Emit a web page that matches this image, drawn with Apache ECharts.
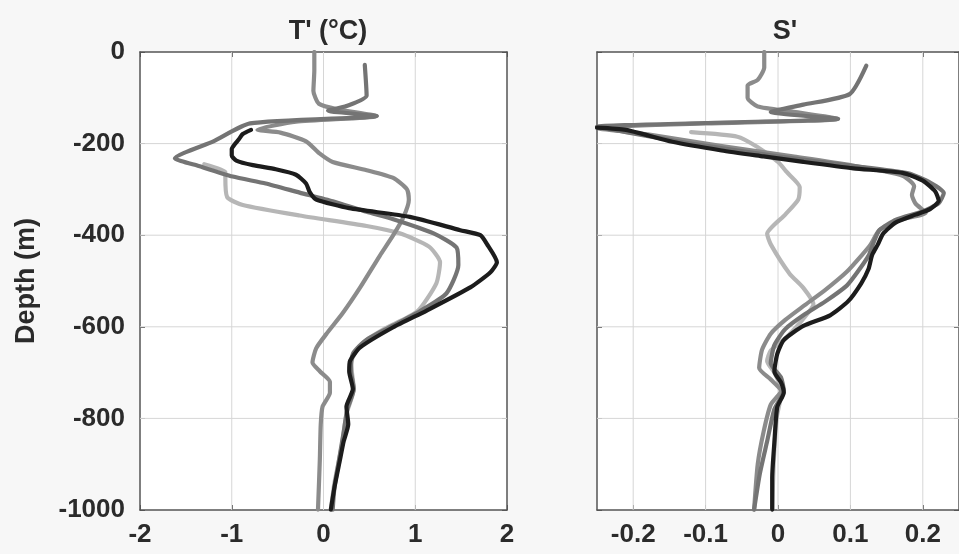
<!DOCTYPE html>
<html>
<head>
<meta charset="utf-8">
<script src="https://cdn.jsdelivr.net/npm/echarts@6/dist/echarts.min.js"></script>
<style>
  html, body { margin: 0; padding: 0; background: #f7f7f7; }
  #chart { width: 959px; height: 554px; }
</style>
</head>
<body>
<div id="chart"></div>
<script>
// depth ticks (m) and x ticks
const depthTicks = [0, -200, -400, -600, -800, -1000]
const tTicks = [-2, -1, 0, 1, 2]
const sTicks = [-0.2, -0.1, 0, 0.1, 0.2]

// T' profiles, [value, depth]
const tBlack = [[-0.79,-170],[-0.88,-179],[-0.92,-190],[-0.97,-202],[-1.0,-212],[-1.0,-226],[-0.95,-237],[-0.77,-247],[-0.52,-256],[-0.3,-268],[-0.19,-287],[-0.15,-306],[-0.08,-322],[0.28,-341],[0.94,-360],[1.49,-389],[1.71,-400],[1.78,-419],[1.89,-459],[1.82,-481],[1.6,-514],[1.12,-565],[0.76,-601],[0.4,-645],[0.29,-674],[0.28,-697],[0.32,-736],[0.25,-774],[0.27,-813],[0.22,-850],[0.18,-890],[0.12,-950],[0.08,-999]]
const tDark = [[0.45,-28],[0.47,-95],[0.25,-118],[0.05,-128],[0.58,-140],[-0.8,-156],[-1.2,-195],[-1.62,-232],[-1.36,-249],[-0.99,-272],[-0.63,-287],[-0.26,-307],[0.1,-326],[0.47,-349],[0.76,-365],[1.2,-396],[1.45,-427],[1.47,-465],[1.34,-527],[1.05,-566],[0.76,-597],[0.47,-628],[0.32,-659],[0.3,-697],[0.33,-736],[0.26,-780],[0.22,-830],[0.17,-890],[0.12,-950],[0.1,-999]]
const tMed = [[-0.1,0],[-0.1,-40],[-0.11,-85],[-0.05,-113],[0.15,-125],[0.58,-140],[-0.3,-152],[-0.72,-170],[-0.47,-176],[-0.19,-195],[-0.04,-222],[0.1,-240],[0.47,-258],[0.76,-275],[0.91,-300],[0.93,-323],[0.87,-361],[0.76,-400],[0.61,-446],[0.4,-514],[0.21,-570],[0.03,-616],[-0.08,-647],[-0.12,-678],[-0.04,-697],[0.07,-720],[0.07,-744],[-0.01,-774],[-0.03,-813],[-0.04,-890],[-0.06,-999]]
const tLight = [[-1.3,-245],[-1.07,-262],[-1.07,-272],[-1.05,-317],[-0.88,-334],[-0.26,-357],[0.47,-380],[0.83,-396],[1.15,-425],[1.27,-459],[1.23,-505],[1.02,-567],[0.65,-606],[0.4,-640],[0.3,-680],[0.33,-736],[0.25,-790],[0.2,-860],[0.12,-940],[0.08,-999]]

// S' profiles, [value, depth]
const sBlack = [[-0.25,-165],[-0.21,-170],[-0.146,-196],[-0.078,-215],[-0.02,-228],[0.035,-240],[0.104,-254],[0.172,-264],[0.2,-281],[0.217,-304],[0.222,-325],[0.21,-343],[0.19,-355],[0.163,-372],[0.145,-397],[0.138,-420],[0.13,-443],[0.125,-474],[0.115,-505],[0.097,-544],[0.072,-575],[0.035,-598],[0.008,-629],[-0.001,-659],[-0.005,-698],[0.004,-721],[0.008,-744],[-0.001,-775],[-0.005,-852],[-0.008,-930],[-0.008,-999]]
const sDark = [[0.122,-30],[0.099,-92],[0.035,-115],[-0.01,-131],[0.083,-146],[-0.1,-155],[-0.25,-163],[-0.22,-172],[-0.12,-200],[0.0,-228],[0.1,-248],[0.18,-265],[0.21,-285],[0.229,-308],[0.222,-330],[0.2,-348],[0.163,-366],[0.14,-389],[0.133,-412],[0.125,-445],[0.11,-480],[0.095,-510],[0.065,-545],[0.035,-575],[0.01,-605],[-0.005,-640],[-0.01,-680],[0.004,-710],[0.008,-740],[-0.005,-780],[-0.015,-850],[-0.025,-920],[-0.033,-999]]
const sMed = [[-0.019,0],[-0.019,-34],[-0.028,-61],[-0.042,-73],[-0.042,-100],[-0.028,-119],[0.02,-130],[0.083,-146],[-0.1,-156],[-0.25,-166],[-0.18,-180],[-0.08,-205],[0.02,-228],[0.1,-247],[0.172,-270],[0.188,-293],[0.185,-312],[0.19,-331],[0.204,-351],[0.17,-366],[0.14,-389],[0.128,-420],[0.115,-445],[0.095,-480],[0.065,-520],[0.035,-555],[0.01,-585],[-0.01,-615],[-0.022,-650],[-0.026,-690],[-0.01,-715],[0.004,-740],[-0.01,-770],[-0.02,-830],[-0.028,-900],[-0.033,-999]]
const sLight = [[-0.12,-175],[-0.056,-185],[-0.029,-207],[0.0,-240],[0.012,-262],[0.03,-295],[0.028,-322],[0.01,-355],[-0.015,-397],[-0.01,-420],[0.016,-484],[0.035,-515],[0.049,-551],[0.035,-582],[0.013,-621],[-0.01,-652],[-0.015,-675],[-0.005,-700],[0.005,-740],[-0.002,-800],[-0.006,-900],[-0.008,-999]]

const FONT = "'Liberation Sans', Arial, sans-serif"
const AXIS_COLOR = '#555'
const LABEL_COLOR = '#2b2b2b'
const GRID_COLOR = '#d6d6d6'

const chart = echarts.init(document.getElementById('chart'))

const grids = [
  { left: 140, top: 52, width: 367, height: 458 },
  { left: 597, top: 52, width: 367, height: 458 }
]

function xBottom(gridIndex, min, max, ticks) {
  return {
    type: 'value', gridIndex, min, max, position: 'bottom',
    splitNumber: 5,
    axisLine: { show: true, onZero: false, lineStyle: { color: AXIS_COLOR, width: 1.5 } },
    axisTick: { show: true, inside: true, length: 5, lineStyle: { color: AXIS_COLOR }, customValues: ticks },
    axisLabel: {
      show: true, margin: 12, color: LABEL_COLOR, fontSize: 26, fontWeight: 'bold', fontFamily: FONT,
      customValues: ticks,
      formatter: v => String(Math.round(v * 10) / 10)
    },
    splitLine: { show: false }
  }
}

function xTop(gridIndex, min, max, ticks) {
  return {
    type: 'value', gridIndex, min, max, position: 'top',
    splitNumber: 5,
    axisLine: { show: true, onZero: false, lineStyle: { color: AXIS_COLOR, width: 1.5 } },
    axisTick: { show: true, inside: true, length: 5, lineStyle: { color: AXIS_COLOR }, customValues: ticks },
    axisLabel: { show: false },
    splitLine: { show: false }
  }
}

function yAxis(gridIndex, position, withLabels) {
  const ax = {
    type: 'value', gridIndex, min: -1000, max: 0, interval: 200, position,
    axisLine: { show: true, onZero: false, lineStyle: { color: AXIS_COLOR, width: 1.5 } },
    axisTick: { show: true, inside: true, length: 5, lineStyle: { color: AXIS_COLOR }, customValues: depthTicks },
    axisLabel: {
      show: withLabels, margin: 15, color: LABEL_COLOR, fontSize: 26, fontWeight: 'bold', fontFamily: FONT,
      formatter: v => String(v)
    },
    splitLine: { show: false }
  }
  if (withLabels) {
    ax.name = 'Depth (m)'
    ax.nameLocation = 'middle'
    ax.nameGap = 100
    ax.nameTextStyle = { color: LABEL_COLOR, fontSize: 27, fontWeight: 'bold', fontFamily: FONT }
  }
  return ax
}

function line(data, color, width, xi, yi, z) {
  return {
    type: 'line', data, xAxisIndex: xi, yAxisIndex: yi, z,
    showSymbol: false, symbol: 'none', animation: false, smooth: 0.2,
    lineStyle: { color, width, join: 'round', cap: 'round' }
  }
}

// grid lines as thin series built from the tick arrays
function gridSeries(xTicks, xMin, xMax, xi, yi) {
  const out = []
  const top = depthTicks[0]
  const bottom = depthTicks[depthTicks.length - 1]
  xTicks.forEach(v => {
    out.push({ type: 'line', data: [[v, bottom], [v, top]], xAxisIndex: xi, yAxisIndex: yi, z: 1,
      silent: true, showSymbol: false, symbol: 'none', animation: false,
      lineStyle: { color: GRID_COLOR, width: 1 } })
  })
  depthTicks.slice(1, -1).forEach(d => {
    out.push({ type: 'line', data: [[xMin, d], [xMax, d]], xAxisIndex: xi, yAxisIndex: yi, z: 1,
      silent: true, showSymbol: false, symbol: 'none', animation: false,
      lineStyle: { color: GRID_COLOR, width: 1 } })
  })
  return out
}

const colors = { black: '#1c1c1c', dark: '#747474', med: '#8b8b8b', light: '#b6b6b6' }
const LW = 4.2

chart.setOption({
  backgroundColor: '#f7f7f7',
  animation: false,
  title: [
    { text: "T' (°C)", left: 323, top: 13, textAlign: 'center',
      textStyle: { color: LABEL_COLOR, fontSize: 27, fontWeight: 'bold', fontFamily: FONT } },
    { text: "S'", left: 780, top: 13, textAlign: 'center',
      textStyle: { color: LABEL_COLOR, fontSize: 27, fontWeight: 'bold', fontFamily: FONT } }
  ],
  grid: grids.map(g => Object.assign({ show: true, backgroundColor: '#ffffff', borderWidth: 0 }, g)),
  xAxis: [
    xBottom(0, -2, 2, tTicks),
    xTop(0, -2, 2, tTicks),
    xBottom(1, -0.25, 0.25, sTicks),
    xTop(1, -0.25, 0.25, sTicks)
  ],
  yAxis: [
    yAxis(0, 'left', true),
    yAxis(0, 'right', false),
    yAxis(1, 'left', false),
    yAxis(1, 'right', false)
  ],
  series: [
    ...gridSeries(tTicks.slice(1, -1), -2, 2, 0, 0),
    ...gridSeries(sTicks, -0.25, 0.25, 2, 2),
    line(tLight, colors.light, LW, 0, 0, 2),
    line(tMed, colors.med, LW, 0, 0, 3),
    line(tDark, colors.dark, LW, 0, 0, 4),
    line(tBlack, colors.black, LW, 0, 0, 5),
    line(sLight, colors.light, LW, 2, 2, 2),
    line(sMed, colors.med, LW, 2, 2, 3),
    line(sDark, colors.dark, LW, 2, 2, 4),
    line(sBlack, colors.black, LW, 2, 2, 5)
  ]
})
</script>
</body>
</html>
